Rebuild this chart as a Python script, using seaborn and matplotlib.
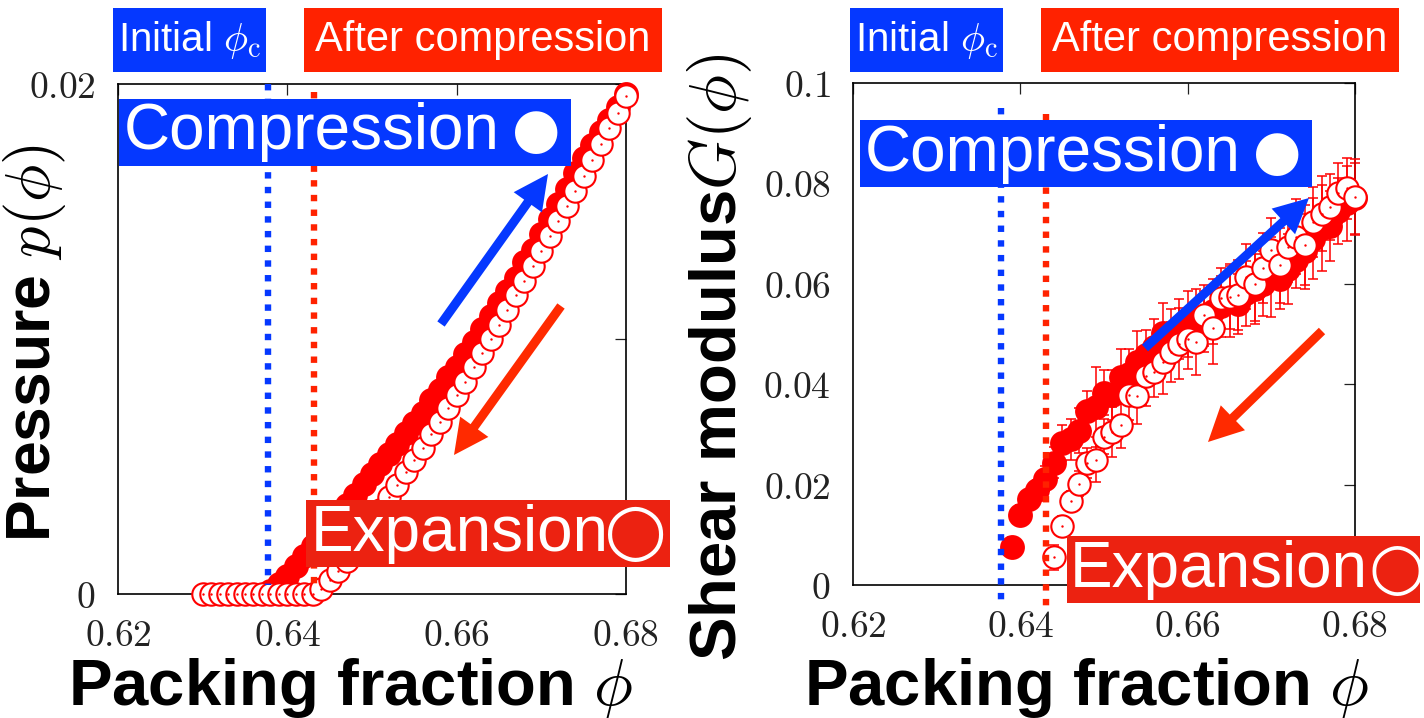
import numpy as np
import pandas as pd
import matplotlib
matplotlib.use("Agg")
import matplotlib.pyplot as plt
import matplotlib.transforms as mtransforms
from matplotlib.patches import Rectangle, FancyArrowPatch
from matplotlib.lines import Line2D
import seaborn as sns

# ---------------- data ----------------
# Left panel: pressure p(phi)
phi_p_comp = [0.638, 0.639, 0.640, 0.641, 0.642, 0.643, 0.644, 0.645, 0.646, 0.647,
              0.648, 0.649, 0.650, 0.651, 0.652, 0.653, 0.654, 0.655, 0.656, 0.657,
              0.658, 0.659, 0.660, 0.661, 0.662, 0.663, 0.664, 0.665, 0.666, 0.667,
              0.668, 0.669, 0.670, 0.671, 0.672, 0.673, 0.674, 0.675, 0.676, 0.677,
              0.678, 0.679, 0.680]
p_comp = [0.0001, 0.0004, 0.0007, 0.0011, 0.0015, 0.0019, 0.0023, 0.0027, 0.0031, 0.0035,
          0.0039, 0.0043, 0.0047, 0.0051, 0.0055, 0.0059, 0.0063, 0.0067, 0.0071, 0.0076,
          0.0080, 0.0085, 0.0089, 0.0094, 0.0099, 0.0104, 0.0109, 0.0114, 0.0119, 0.0124,
          0.0130, 0.0135, 0.0141, 0.0147, 0.0153, 0.0159, 0.0165, 0.0171, 0.0176, 0.0181,
          0.0186, 0.0191, 0.0196]

phi_p_exp = [0.630, 0.631, 0.632, 0.633, 0.634, 0.635, 0.636, 0.637, 0.638, 0.639,
             0.640, 0.641, 0.642, 0.643, 0.644, 0.645, 0.646, 0.647, 0.648, 0.649,
             0.650, 0.651, 0.652, 0.653, 0.654, 0.655, 0.656, 0.657, 0.658, 0.659,
             0.660, 0.661, 0.662, 0.663, 0.664, 0.665, 0.666, 0.667, 0.668, 0.669,
             0.670, 0.671, 0.672, 0.673, 0.674, 0.675, 0.676, 0.677, 0.678, 0.679,
             0.680]
p_exp = [0.0, 0.0, 0.0, 0.0, 0.0, 0.0, 0.0, 0.0, 0.0, 0.0,
         0.0, 0.0, 0.0, 0.0, 0.0002, 0.00055, 0.0009, 0.0013, 0.0018, 0.0023,
         0.0028, 0.0033, 0.0038, 0.00428, 0.00477, 0.00525, 0.00574, 0.00627, 0.00676, 0.00728,
         0.0078, 0.00833, 0.00889, 0.00944, 0.00999, 0.01055, 0.01115, 0.01172, 0.01228, 0.01287,
         0.01344, 0.01403, 0.01462, 0.0152, 0.01582, 0.0164, 0.01702, 0.01763, 0.01826, 0.01887,
         0.01953]

# Right panel: shear modulus G(phi) with error bars
phi_G_comp = [0.639, 0.640, 0.641, 0.642, 0.643, 0.644, 0.645, 0.646, 0.647, 0.648,
              0.649, 0.650, 0.651, 0.652, 0.653, 0.654, 0.655, 0.656, 0.657, 0.658,
              0.659, 0.660, 0.661, 0.662, 0.663, 0.664, 0.665, 0.666, 0.667, 0.668,
              0.669, 0.670, 0.671, 0.672, 0.673, 0.674, 0.675, 0.676, 0.677, 0.678,
              0.679, 0.680]
G_comp = [0.0075, 0.0139, 0.0171, 0.0190, 0.0212, 0.0244, 0.0283, 0.0290, 0.0307, 0.0347,
          0.0355, 0.0383, 0.0378, 0.0415, 0.0420, 0.0445, 0.0458, 0.0475, 0.0502, 0.0495,
          0.0510, 0.0520, 0.0530, 0.0525, 0.0545, 0.0555, 0.0565, 0.0560, 0.0581, 0.0590,
          0.0600, 0.0614, 0.0610, 0.0630, 0.0647, 0.0665, 0.0690, 0.0711, 0.0715, 0.0745,
          0.0760, 0.0770]
G_comp_err = [0.0020, 0.0020, 0.0015, 0.0020, 0.0025, 0.0030, 0.0035, 0.0040, 0.0045, 0.0040,
              0.0080, 0.0045, 0.0050, 0.0055, 0.0050, 0.0060, 0.0050, 0.0055, 0.0060, 0.0055,
              0.0060, 0.0065, 0.0060, 0.0060, 0.0065, 0.0060, 0.0070, 0.0060, 0.0065, 0.0070,
              0.0065, 0.0080, 0.0060, 0.0070, 0.0055, 0.0075, 0.0080, 0.0085, 0.0070, 0.0065,
              0.0075, 0.0070]

phi_G_exp = [0.644, 0.645, 0.646, 0.647, 0.648, 0.649, 0.650, 0.651, 0.652, 0.653,
             0.654, 0.655, 0.656, 0.657, 0.658, 0.659, 0.660, 0.661, 0.662, 0.663,
             0.664, 0.665, 0.666, 0.667, 0.668, 0.669, 0.670, 0.671, 0.672, 0.673,
             0.674, 0.675, 0.676, 0.677, 0.678, 0.679, 0.680]
G_exp = [0.0055, 0.0117, 0.0168, 0.0202, 0.0243, 0.0250, 0.0295, 0.0305, 0.0318, 0.0378,
         0.0376, 0.0416, 0.0424, 0.0445, 0.0464, 0.0481, 0.0490, 0.0484, 0.0537, 0.0511,
         0.0571, 0.0574, 0.0577, 0.0614, 0.0600, 0.0632, 0.0667, 0.0637, 0.0673, 0.0694,
         0.0677, 0.0723, 0.0740, 0.0753, 0.0781, 0.0790, 0.0773]
G_exp_err = [0.0025, 0.0020, 0.0020, 0.0025, 0.0030, 0.0045, 0.0035, 0.0050, 0.0045, 0.0050,
             0.0055, 0.0060, 0.0050, 0.0065, 0.0060, 0.0070, 0.0060, 0.0065, 0.0060, 0.0070,
             0.0060, 0.0065, 0.0070, 0.0065, 0.0075, 0.0070, 0.0065, 0.0075, 0.0070, 0.0075,
             0.0080, 0.0070, 0.0075, 0.0065, 0.0060, 0.0060, 0.0075]

# jamming points (vertical dotted lines)
phi_c_initial = 0.6377
phi_c_after = 0.6431

# ticks / labels
x_ticks = [0.62, 0.64, 0.66, 0.68]
x_ticklabels = ["$0.62$", "$0.64$", "$0.66$", "$0.68$"]
p_ticks = [0.0, 0.01, 0.02]
p_ticklabels = ["$0$", "", "$0.02$"]
G_ticks = [0.0, 0.02, 0.04, 0.06, 0.08, 0.1]
G_ticklabels = ["$0$", "$0.02$", "$0.04$", "$0.06$", "$0.08$", "$0.1$"]

txt_initial = r"Initial $\phi_{\rm c}$"
txt_after = "After compression"
txt_comp = "Compression"
txt_exp = "Expansion"
sym_comp = "\u25CF"
sym_exp = "\u25CB"
xlabel = r"Packing fraction $\phi$"
ylabel_p = r"Pressure $p(\phi)$"
ylabel_G = r"Shear modulus$G(\phi)$"

# ---------------- style ----------------
BLUE = "#0538ff"
RED_TOP = "#ff2200"
RED_EXP = "#ec2211"
RED_ARROW = "#ff2a00"
RED_MARK = "#ff0000"

sns.set_style("white")
plt.rcParams['font.family'] = ['Liberation Sans', 'DejaVu Sans']
plt.rcParams['mathtext.fontset'] = 'cm'

W, H = 1424, 718
fig = plt.figure(figsize=(W / 100, H / 100), dpi=100)


def fx(px):
    return px / W


def fy(py):
    return 1 - py / H


axL = fig.add_axes([fx(118), fy(594), fx(626) - fx(118), fy(84) - fy(594)])
axR = fig.add_axes([fx(853), fy(585), fx(1355) - fx(853), fy(83) - fy(585)])

S_FILL = 320
S_OPEN = 260
LW_OPEN = 1.5

# ---- left panel ----
df_pc = pd.DataFrame({"phi": phi_p_comp, "p": p_comp})
df_pe = pd.DataFrame({"phi": phi_p_exp, "p": p_exp})
sns.scatterplot(data=df_pc, x="phi", y="p", ax=axL, color=RED_MARK, s=S_FILL,
                linewidth=0, zorder=3, legend=False, clip_on=False)
sns.scatterplot(data=df_pe, x="phi", y="p", ax=axL, color="white", edgecolor=RED_MARK,
                s=S_OPEN, linewidth=LW_OPEN, zorder=4, legend=False, clip_on=False)
sns.scatterplot(data=df_pe, x="phi", y="p", ax=axL, color=RED_MARK, s=3,
                linewidth=0, zorder=5, legend=False, clip_on=False)
axL.set_xlim(0.62, 0.68)
axL.set_ylim(0, 0.02)
axL.set_xticks(x_ticks)
axL.set_xticklabels(x_ticklabels)
axL.set_yticks(p_ticks)
axL.set_yticklabels(p_ticklabels)

# ---- right panel ----
axR.errorbar(phi_G_comp, G_comp, yerr=G_comp_err, fmt="none", ecolor=RED_MARK,
             elinewidth=1.1, capsize=3.8, capthick=1.1, zorder=2, clip_on=False)
df_gc = pd.DataFrame({"phi": phi_G_comp, "G": G_comp})
df_ge = pd.DataFrame({"phi": phi_G_exp, "G": G_exp})
sns.scatterplot(data=df_gc, x="phi", y="G", ax=axR, color=RED_MARK, s=S_FILL,
                linewidth=0, zorder=3, legend=False, clip_on=False)
axR.errorbar(phi_G_exp, G_exp, yerr=G_exp_err, fmt="none", ecolor=RED_MARK,
             elinewidth=1.1, capsize=3.8, capthick=1.1, zorder=4, clip_on=False)
sns.scatterplot(data=df_ge, x="phi", y="G", ax=axR, color="white", edgecolor=RED_MARK,
                s=S_OPEN, linewidth=LW_OPEN, zorder=5, legend=False, clip_on=False)
sns.scatterplot(data=df_ge, x="phi", y="G", ax=axR, color=RED_MARK, s=3,
                linewidth=0, zorder=6, legend=False, clip_on=False)
axR.set_xlim(0.62, 0.68)
axR.set_ylim(0, 0.1)
axR.set_xticks(x_ticks)
axR.set_xticklabels(x_ticklabels)
axR.set_yticks(G_ticks)
axR.set_yticklabels(G_ticklabels)

for ax in (axL, axR):
    ax.set_xlabel("")
    ax.set_ylabel("")
    for sp in ax.spines.values():
        sp.set_linewidth(1.2)
        sp.set_color("black")
    ax.tick_params(axis="both", which="major", direction="in", length=8, width=0.9,
                   color="#222222", top=True, right=True, labelsize=27,
                   labelcolor="#222222")
    ax.tick_params(axis="x", pad=17)
    ax.tick_params(axis="y", pad=16)

# ---- vertical dotted phi_c lines (extend beyond the frame, as in the reference) ----
def vline(ax, xval, ytop, ybot, color):
    tr = mtransforms.blended_transform_factory(ax.transData, fig.transFigure)
    ln = Line2D([xval, xval], [fy(ytop), fy(ybot)], transform=tr, color=color,
                linewidth=4.6, linestyle=(0, (1, 1.3)), dash_capstyle="butt",
                solid_capstyle="butt", zorder=1.5)
    fig.add_artist(ln)

vline(axL, phi_c_initial, 84, 585, BLUE)
vline(axL, phi_c_after, 92, 590, RED_TOP)
vline(axR, phi_c_initial, 108, 606, BLUE)
vline(axR, phi_c_after, 114, 612, RED_TOP)

# ---- boxes with text ----
def rect(x0, y0, x1, y1, color):
    r = Rectangle((fx(x0), fy(y1)), fx(x1) - fx(x0), fy(y0) - fy(y1),
                  transform=fig.transFigure, facecolor=color, edgecolor="none", zorder=2)
    fig.add_artist(r)


def label_box(x0, y0, x1, y1, color, text, size):
    rect(x0, y0, x1, y1, color)
    fig.text(fx((x0 + x1) / 2), fy((y0 + y1) / 2), text, color="white", fontsize=size,
             ha="center", va="center", zorder=3)


def word_box(x0, y0, x1, y1, color, text, tx, sym, sx, ssize):
    rect(x0, y0, x1, y1, color)
    yc = (y0 + y1) / 2
    fig.text(fx(tx), fy(yc), text, color="white", fontsize=46,
             ha="left", va="center", zorder=3)
    fig.text(fx(sx), fy(yc), sym, color="white", fontsize=ssize,
             family="DejaVu Sans", ha="center", va="center", zorder=3)

label_box(113, 8, 266, 72, BLUE, txt_initial, 29)
label_box(304, 8, 662, 72, RED_TOP, txt_after, 30)
label_box(850, 8, 1003, 72, BLUE, txt_initial, 29)
label_box(1041, 8, 1399, 72, RED_TOP, txt_after, 30)
word_box(119, 99, 571, 166, BLUE, txt_comp, 124, sym_comp, 536, 40)
word_box(306, 500, 670, 567, RED_EXP, txt_exp, 311, sym_exp, 636, 52)
word_box(860, 120, 1312, 187, BLUE, txt_comp, 865, sym_comp, 1277, 40)
word_box(1067, 536, 1420, 603, RED_EXP, txt_exp, 1070, sym_exp, 1397, 47)

# ---- arrows ----
def arrow(x0, y0, x1, y1, color):
    a = FancyArrowPatch((fx(x0), fy(y0)), (fx(x1), fy(y1)), transform=fig.transFigure,
                        arrowstyle="simple,head_width=25,head_length=25,tail_width=6.5",
                        color=color, linewidth=0, shrinkA=0, shrinkB=0, zorder=2.5)
    fig.add_artist(a)

arrow(441, 324, 548, 174, BLUE)
arrow(561, 306, 454, 455, RED_ARROW)
arrow(1145, 348, 1309, 198, BLUE)
arrow(1322, 331, 1208, 442, RED_ARROW)

# ---- axis labels ----
fig.text(fx(351), fy(704), xlabel, fontsize=47, fontweight="bold", ha="center",
         va="baseline", color="black")
fig.text(fx(1087), fy(704), xlabel, fontsize=47, fontweight="bold", ha="center",
         va="baseline", color="black")
fig.text(fx(35), fy(343), ylabel_p, fontsize=45, fontweight="bold", ha="center",
         va="center", rotation=90, color="black")
fig.text(fx(720), fy(357), ylabel_G, fontsize=47, fontweight="bold", ha="center",
         va="center", rotation=90, color="black")

fig.savefig("out.png", dpi=100)
